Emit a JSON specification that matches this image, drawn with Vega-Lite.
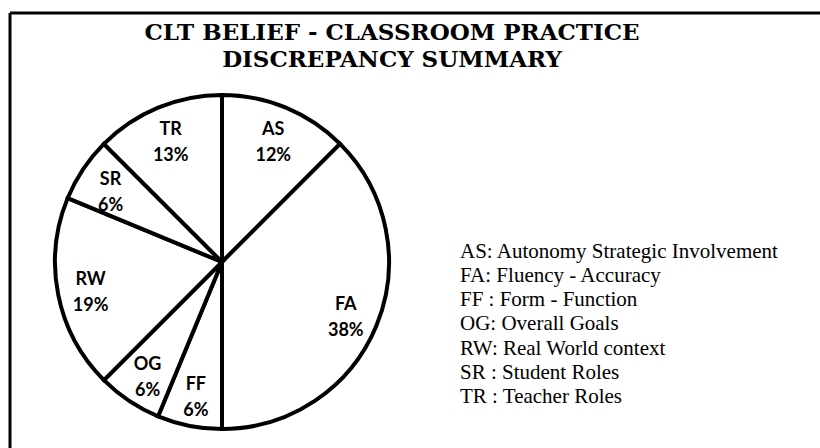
{
  "$schema": "https://vega.github.io/schema/vega-lite/v6.json",
  "width": 810,
  "height": 435,
  "autosize": {"type": "none"},
  "padding": {"left": 10, "top": 13, "right": 0, "bottom": 0},
  "background": "white",
  "view": {"stroke": "black", "strokeWidth": 3, "fill": "white", "strokeDash": [810, 1245, 435, 0]},
  "title": {
    "text": ["CLT BELIEF - CLASSROOM PRACTICE", "DISCREPANCY SUMMARY"],
    "font": "DejaVu Serif",
    "fontSize": 23,
    "fontWeight": "bold",
    "color": "black",
    "lineHeight": 27,
    "anchor": "middle",
    "baseline": "top",
    "dx": -23,
    "dy": 59,
    "offset": 0
  },
  "data": {
    "values": [
      {"idx": 1, "code": "AS", "desc": "AS: Autonomy Strategic Involvement", "value": 12.5, "label": "AS\n12%"},
      {"idx": 2, "code": "FA", "desc": "FA: Fluency - Accuracy", "value": 37.5, "label": "FA\n38%"},
      {"idx": 3, "code": "FF", "desc": "FF : Form - Function", "value": 6.25, "label": "FF\n6%"},
      {"idx": 4, "code": "OG", "desc": "OG: Overall Goals", "value": 6.25, "label": "OG\n6%"},
      {"idx": 5, "code": "RW", "desc": "RW: Real World context", "value": 18.75, "label": "RW\n19%"},
      {"idx": 6, "code": "SR", "desc": "SR : Student Roles", "value": 6.25, "label": "SR\n6%"},
      {"idx": 7, "code": "TR", "desc": "TR : Teacher Roles", "value": 12.5, "label": "TR\n13%"}
    ]
  },
  "encoding": {
    "theta": {"field": "value", "type": "quantitative", "stack": true},
    "order": {"field": "idx", "type": "quantitative", "sort": "ascending"}
  },
  "layer": [
    {
      "mark": {"type": "arc", "x": 212, "y": 249, "outerRadius": 167, "stroke": "black", "strokeWidth": 4, "strokeJoin": "miter"},
      "encoding": {
        "fill": {
          "field": "desc",
          "type": "nominal",
          "scale": {"range": ["white", "white", "white", "white", "white", "white", "white"]},
          "legend": {
            "title": null,
            "orient": "none",
            "legendX": 429,
            "legendY": 228,
            "labelFont": "Liberation Serif",
            "labelFontSize": 21,
            "labelColor": "black",
            "labelLimit": 500,
            "labelOffset": 0,
            "symbolOpacity": 0,
            "symbolSize": 0,
            "symbolStrokeWidth": 0,
            "rowPadding": 2.3,
            "padding": 0
          }
        }
      }
    },
    {
      "mark": {"type": "text", "x": 212, "y": 249, "radius": 134, "dy": -8, "font": "Lato", "fontSize": 18, "fontWeight": "bold", "color": "black", "lineBreak": "\n", "lineHeight": 26, "align": "center", "baseline": "middle"},
      "encoding": {
        "text": {"field": "label", "type": "nominal"}
      }
    }
  ]
}
